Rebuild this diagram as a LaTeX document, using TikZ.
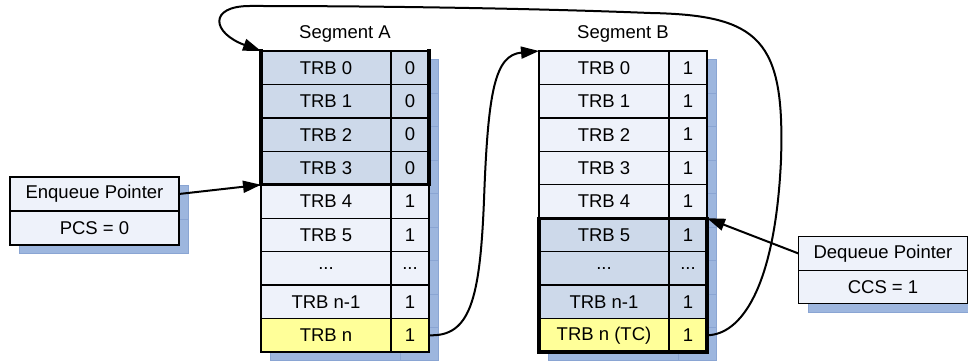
\documentclass[tikz,border=0pt]{standalone}
\usepackage{fontspec}
\setmainfont{Liberation Sans}
\usetikzlibrary{arrows.meta}
\definecolor{shad}{HTML}{9DB6DE}
\definecolor{shadline}{HTML}{8AA5D3}
\definecolor{lightc}{HTML}{EEF2FA}
\definecolor{bluc}{HTML}{CDD9EA}
\definecolor{yelc}{HTML}{FFFF99}
\newcommand\mydots{...}
\tikzset{
 cell/.style={draw=black, line width=0.65pt, inner sep=0pt, outer sep=0pt, minimum height=16.72pt, font=\fontsize{9.25}{11}\selectfont},
 namecell/.style={cell, minimum width=65pt},
 valcell/.style={cell, minimum width=19pt},
 ptrcell/.style={cell, minimum width=84.5pt, minimum height=17pt, fill=lightc},
 thickline/.style={line width=1.65pt, line cap=rect},
 arr/.style={line width=1pt, -{Triangle[length=9pt,width=6pt]}},
 lbl/.style={font=\fontsize{9.25}{11}\selectfont, inner sep=0pt},
 shadowbox/.style={fill=shad, draw=shadline, line width=0.5pt},
}
\begin{document}
\begin{tikzpicture}[x=0.5pt,y=-0.5pt]
\useasboundingbox (0,0) rectangle (968,362);

% shadows of segments
\foreach \i in {0,1,2,3,4,5,6,7,8} {
  \filldraw[shadowbox] (270,{60+33.44*\i}) rectangle (400,{60+33.44*(\i+1)});
  \filldraw[shadowbox] (400,{60+33.44*\i}) rectangle (438,{60+33.44*(\i+1)});
  \filldraw[shadowbox] (548,{60+33.44*\i}) rectangle (678,{60+33.44*(\i+1)});
  \filldraw[shadowbox] (678,{60+33.44*\i}) rectangle (716,{60+33.44*(\i+1)});
}
% shadows of pointer boxes
\filldraw[shadowbox] (19,186) rectangle (188,220);
\filldraw[shadowbox] (19,220) rectangle (188,254);
\filldraw[shadowbox] (808,246) rectangle (977,280);
\filldraw[shadowbox] (808,280) rectangle (977,313);

% Segment A
\foreach \i/\t/\v/\c in {0/TRB 0/0/bluc, 1/TRB 1/0/bluc, 2/TRB 2/0/bluc, 3/TRB 3/0/bluc,
  4/TRB 4/1/lightc, 5/TRB 5/1/lightc, 6/\mydots/\mydots/lightc, 7/TRB n-1/1/lightc, 8/TRB n/1/yelc} {
  \node[namecell, fill=\c] (A\i) at (326,{51+33.44*(\i+0.5)}) {\t};
  \node[valcell, fill=\c] (Av\i) at (410,{51+33.44*(\i+0.5)}) {\v};
}
% Segment B
\foreach \i/\t/\v/\c in {0/TRB 0/1/lightc, 1/TRB 1/1/lightc, 2/TRB 2/1/lightc, 3/TRB 3/1/lightc,
  4/TRB 4/1/lightc, 5/TRB 5/1/bluc, 6/\mydots/\mydots/bluc, 7/TRB n-1/1/bluc, 8/TRB n (TC)/1/yelc} {
  \node[namecell, fill=\c] (B\i) at (604,{51+33.44*(\i+0.5)}) {\t};
  \node[valcell, fill=\c] (Bv\i) at (688,{51+33.44*(\i+0.5)}) {\v};
}

% thick outlines
\draw[thickline] (A0.north west) -- (A3.south west) -- (Av3.south east) -- (Av0.north east);
\draw[thickline] (B5.north west) rectangle (Bv8.south east);

% labels
\node[lbl] (segA) at (345,34) {Segment A};
\node[lbl] (segB) at (623,34) {Segment B};

% pointer boxes
\node[ptrcell] (enq) at (94.5,194) {Enqueue Pointer};
\node[ptrcell] (pcs) at (94.5,228) {PCS = 0};
\node[ptrcell] (deq) at (883,253.5) {Dequeue Pointer};
\node[ptrcell, minimum height=16.5pt] (ccs) at (883,287) {CCS = 1};

% arrows
\draw[arr] (enq.east) -- (A3.south west);
\draw[arr] (deq.west) -- (Bv5.north east);
\draw[arr] (Av8.east) .. controls (470,337) and (480,300) .. (484,200)
  .. controls (488,90) and (495,55) .. (B0.north west);
\draw[arr] (Bv8.east) .. controls (740,335) and (775,290) .. (781,160)
  .. controls (785,40) and (760,15) .. (650,13)
  .. controls (550,9) and (400,6) .. (250,6)
  .. controls (208,6) and (212,33) .. (A0.north west);
\end{tikzpicture}
\end{document}
